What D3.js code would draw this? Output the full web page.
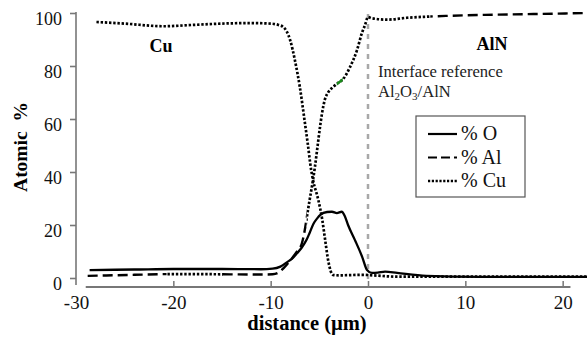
<!DOCTYPE html>
<html>
<head>
<meta charset="utf-8">
<script src="https://cdn.jsdelivr.net/npm/d3@7"></script>
<style>
  body { margin: 0; background: #fff; }
</style>
</head>
<body>
<div id="chart"></div>
<script>
// data (distance in µm, atomic %)
const oX = [-28.6, -24, -20, -15, -11, -9.8, -9.0, -8.3, -7.8, -7.3, -6.8, -6.3, -6.0, -5.6, -5.2, -4.9, -4.2, -3.7, -3.2, -2.7, -2.4, -2.05, -1.34, -0.6, -0.1, 0.4, 1.0, 1.75, 3.0, 6.0, 11.5, 17, 22.5];
const oY = [3.0, 3.2, 3.4, 3.4, 3.3, 3.5, 4.3, 6.0, 7.3, 9.3, 11.5, 14.5, 17, 20.5, 22.6, 23.8, 24.9, 25, 24.5, 25, 23.5, 20, 14.3, 8, 3, 1.9, 2.0, 2.4, 1.9, 0.8, 0.4, 0.4, 0.4];

const alX = [-28.8, -24, -20, -15, -11, -9.8, -9.2, -8.6, -7.8, -7.2, -6.8, -6.5, -6.3, -6.0, -5.65, -5.45, -5.24, -4.93, -4.73, -4.42, -4.1, -3.6, -3.08, -2.57, -1.85, -1.13, -0.62, -0.3, 0, 0.4, 2, 4, 6, 8, 12, 17, 22.5];
const alY = [0.8, 1.2, 1.5, 1.4, 1.3, 1.4, 2.0, 4.0, 7.5, 10.5, 13, 18, 22.6, 29.4, 37, 42, 48, 57, 62, 67.5, 70, 72, 73.6, 75, 79.6, 86, 92.5, 95.5, 98.5, 98, 97.5, 98.2, 98.6, 98.9, 99.3, 99.6, 100];

const cuX = [-27.9, -25, -21, -18, -15, -12, -10, -9.2, -8.7, -8.0, -7.5, -7.0, -6.5, -6.2, -5.85, -5.65, -5.1, -4.7, -4.4, -4.1, -3.6, -3.0, -0.5, 0.5, 3, 8, 15, 22.5];
const cuY = [96.6, 96, 95, 95.5, 96, 96.2, 96, 95.5, 94.7, 89.8, 82, 72, 59, 51, 41, 37, 29.4, 22, 14.3, 6.8, 1.2, 1.0, 1.2, 1.0, 0.5, 0.5, 0.5, 0.5];

const xTicks = [-30, -20, -10, 0, 10, 20];
const yTicks = [0, 20, 40, 60, 80, 100];
const seriesNames = ["% O", "% Al", "% Cu"];

const width = 587, height = 339;
const FONT = '"Liberation Serif", "Times New Roman", "DejaVu Serif", serif';

const svg = d3.select("#chart").append("svg")
  .attr("width", width)
  .attr("height", height)
  .style("font-family", FONT);

const x = d3.scaleLinear().domain([-30, 0]).range([76, 368]);
const y = d3.scaleLinear().domain([0, 100]).range([278, 13]);
const axisY = 287;

const zip = (xs, ys) => xs.map((v, i) => [v, ys[i]]);
const line = d3.line()
  .x(d => x(d[0]))
  .y(d => y(d[1]))
  .curve(d3.curveMonotoneX);

const DOT = "2.4,1.8";
const DASH = "10,5";

// interface reference line
svg.append("line")
  .attr("x1", x(0)).attr("x2", x(0))
  .attr("y1", y(100) + 1).attr("y2", y(0) + 5)
  .attr("stroke", "#a8a8a8")
  .attr("stroke-width", 2.5)
  .attr("stroke-dasharray", "5,5");

// y axis
const gy = svg.append("g")
  .attr("transform", `translate(${x(-30)},0)`)
  .call(d3.axisLeft(y).tickValues(yTicks).tickSize(6).tickSizeOuter(0).tickPadding(8));
gy.attr("font-family", null).attr("font-size", null);
gy.select(".domain").remove();
gy.append("line")
  .attr("y1", y(100) - 1).attr("y2", y(0) + 7)
  .attr("stroke", "#777").attr("stroke-width", 1.6);
gy.selectAll(".tick line").attr("stroke", "#777").attr("stroke-width", 1.6);
gy.selectAll(".tick text")
  .style("font-family", FONT)
  .attr("font-size", 18)
  .attr("fill", "#111")
  .attr("dy", "0.62em");

// x axis
const gx = svg.append("g")
  .attr("transform", `translate(0,${axisY})`)
  .call(d3.axisBottom(x).tickValues(xTicks).tickFormat(d => String(d)).tickSize(-6).tickSizeOuter(0).tickPadding(9));
gx.attr("font-family", null).attr("font-size", null);
gx.select(".domain").remove();
gx.append("line")
  .attr("x1", x(-29)).attr("x2", x(20.8))
  .attr("stroke", "#777").attr("stroke-width", 2);
gx.selectAll(".tick line")
  .attr("stroke", "#777").attr("stroke-width", 1.5)
  .attr("display", d => d === -30 ? "none" : null);
gx.selectAll(".tick text")
  .style("font-family", FONT)
  .attr("font-size", 19)
  .attr("fill", "#111");

// clip ranges for the Al curve style changes
function clipRange(id, x0, x1) {
  svg.append("clipPath").attr("id", id)
    .append("rect")
    .attr("x", x(x0)).attr("width", x(x1) - x(x0))
    .attr("y", 0).attr("height", height);
  return `url(#${id})`;
}

const alPath = line(zip(alX, alY));
const alParts = [
  [-31, -20.7, DASH], [-20.7, -14.9, DOT], [-14.9, -6.3, DASH],
  [-6.3, 6.4, DOT], [6.4, 25, DASH]
];
alParts.forEach((p, i) => {
  svg.append("path")
    .attr("d", alPath)
    .attr("clip-path", clipRange("al" + i, p[0], p[1]))
    .attr("fill", "none")
    .attr("stroke", "#000")
    .attr("stroke-width", p[2] === DOT ? 2.7 : 2.4)
    .attr("stroke-dasharray", p[2]);
});
svg.append("path")
  .attr("d", alPath)
  .attr("clip-path", clipRange("algreen", -3.2, -2.6))
  .attr("fill", "none")
  .attr("stroke", "#1a8a1a")
  .attr("stroke-width", 2.6);

// Cu
svg.append("path")
  .attr("d", line(zip(cuX, cuY)))
  .attr("fill", "none")
  .attr("stroke", "#000")
  .attr("stroke-width", 2.7)
  .attr("stroke-dasharray", DOT);

// O
svg.append("path")
  .attr("d", line(zip(oX, oY)))
  .attr("fill", "none")
  .attr("stroke", "#000")
  .attr("stroke-width", 2.3);

// axis titles
svg.append("text")
  .attr("x", 307).attr("y", 330)
  .attr("text-anchor", "middle")
  .attr("font-size", 20.5).attr("font-weight", "bold")
  .text("distance (µm)");

svg.append("text")
  .attr("transform", "translate(27,147) rotate(-90)")
  .attr("text-anchor", "middle")
  .attr("font-size", 19.5).attr("font-weight", "bold")
  .style("white-space", "pre")
  .text("Atomic  %");

// region labels
svg.append("text")
  .attr("x", 161).attr("y", 52)
  .attr("text-anchor", "middle")
  .attr("font-size", 18).attr("font-weight", "bold")
  .text("Cu");
svg.append("text")
  .attr("x", 492).attr("y", 50)
  .attr("text-anchor", "middle")
  .attr("font-size", 18).attr("font-weight", "bold")
  .text("AlN");

svg.append("text")
  .attr("x", 378).attr("y", 77)
  .attr("font-size", 16.6)
  .attr("fill", "#222")
  .text("Interface reference");
const t2 = svg.append("text")
  .attr("x", 378).attr("y", 97)
  .attr("font-size", 16.6)
  .attr("fill", "#222");
t2.append("tspan").text("Al");
t2.append("tspan").attr("font-size", 11).attr("dy", 3).text("2");
t2.append("tspan").attr("dy", -3).text("O");
t2.append("tspan").attr("font-size", 11).attr("dy", 3).text("3");
t2.append("tspan").attr("dy", -3).text("/AlN");

// legend
const legend = svg.append("g").attr("transform", "translate(416,116)");
legend.append("rect")
  .attr("width", 109).attr("height", 81)
  .attr("fill", "#fff")
  .attr("stroke", "#555").attr("stroke-width", 1.2);
const legStyles = [null, "9,4", "2.2,1.6"];
seriesNames.forEach((name, i) => {
  const yy = 18 + i * 23.5;
  legend.append("line")
    .attr("x1", 12).attr("x2", 41)
    .attr("y1", yy).attr("y2", yy)
    .attr("stroke", "#000")
    .attr("stroke-width", i === 2 ? 2.4 : 2.2)
    .attr("stroke-dasharray", legStyles[i]);
  legend.append("text")
    .attr("x", 45).attr("y", yy + 6)
    .attr("font-size", 20)
    .attr("fill", "#111")
    .text(name);
});
</script>
</body>
</html>
